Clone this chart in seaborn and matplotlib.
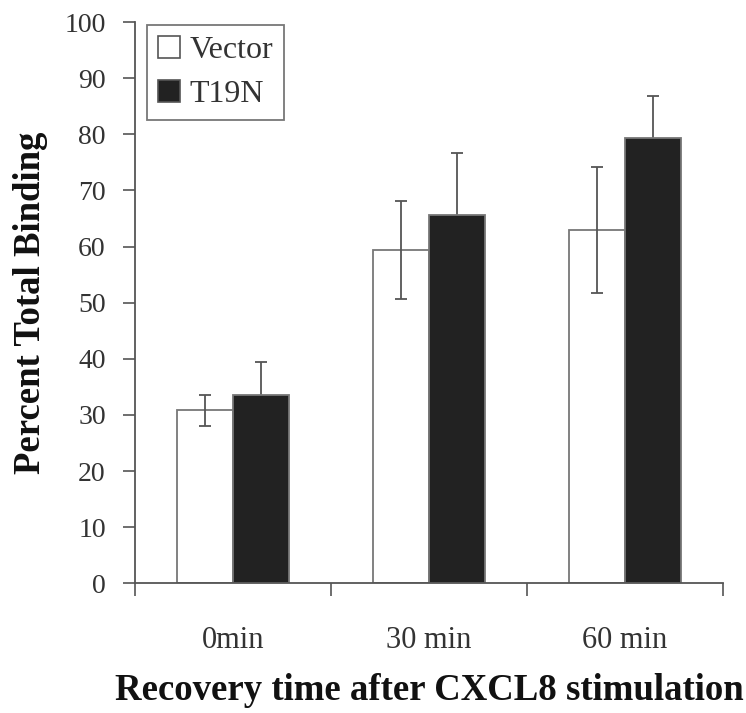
import matplotlib
matplotlib.use("Agg")
import matplotlib.pyplot as plt
import seaborn as sns
import pandas as pd
import numpy as np
from matplotlib.patches import Patch

categories = ["0min", "30 min", "60 min"]
groups = ["Vector", "T19N"]
vector_vals = [30.8, 59.4, 63.0]
t19n_vals = [33.5, 65.6, 79.3]
vector_err = [2.7, 8.7, 11.2]
t19n_err = [5.9, 11.0, 7.6]
yticks = list(range(0, 101, 10))

sns.set_theme(style="white")
plt.rcParams["font.family"] = ["Liberation Serif", "DejaVu Serif"]

df = pd.DataFrame({
    "time": categories * 2,
    "group": [groups[0]] * 3 + [groups[1]] * 3,
    "value": vector_vals + t19n_vals,
})

fig = plt.figure(figsize=(7.46, 7.13), dpi=100)
ax = fig.add_axes([0.181, 0.182, 0.788, 0.787])

sns.barplot(data=df, x="time", y="value", hue="group", order=categories,
            hue_order=groups, palette={"Vector": "white", "T19N": "#222222"},
            errorbar=None, width=0.57, edgecolor="#777777", linewidth=1.3,
            ax=ax, legend=False, zorder=2)

errs = {"Vector": vector_err, "T19N": t19n_err}
for cont, g in zip(ax.containers, groups):
    xs = [p.get_x() + p.get_width() / 2 for p in cont]
    hs = [p.get_height() for p in cont]
    z = 3 if g == "Vector" else 1
    ax.errorbar(xs, hs, yerr=errs[g], fmt="none", ecolor="#555555",
                elinewidth=1.3, capsize=4, capthick=1.3, zorder=z)

ax.set_ylim(0, 100)
ax.set_xlim(-0.5, 2.5)
ax.set_yticks(yticks)
ax.set_yticklabels([str(t) for t in yticks], fontsize=20, color="#333333")
ax.set_xticks([-0.5, 0.5, 1.5, 2.5])
ax.set_xticklabels([])
ax.set_xticks([0, 1, 2], minor=True)
ax.set_xticklabels(categories, minor=True, fontsize=22, color="#333333")
ax.tick_params(axis="x", which="minor", length=0, pad=31)
ax.tick_params(axis="x", which="major", direction="out", length=9, width=1.2, color="#555555", bottom=True)
ax.tick_params(axis="y", direction="out", length=9, width=1.2, color="#555555", left=True, pad=12)

for s in ["top", "right"]:
    ax.spines[s].set_visible(False)
for s in ["left", "bottom"]:
    ax.spines[s].set_color("#555555")
    ax.spines[s].set_linewidth(1.3)

ax.set_xlabel("Recovery time after CXCL8 stimulation", fontsize=26.5, fontweight="bold",
              labelpad=13, color="#111111")
ax.set_ylabel("Percent Total Binding", fontsize=26.5, fontweight="bold", labelpad=12,
              color="#111111")

handles = [Patch(facecolor="white", edgecolor="#555555", linewidth=1.2),
           Patch(facecolor="#222222", edgecolor="#555555", linewidth=1.2)]
leg = ax.legend(handles, groups, loc="upper left", bbox_to_anchor=(0.02, 0.995),
                fontsize=23, frameon=True, fancybox=False, handlelength=0.68,
                handleheight=0.68, handletextpad=0.3, borderpad=0.35, labelspacing=0.45,
                borderaxespad=0.0)
for t in leg.get_texts():
    t.set_color("#333333")
leg.get_frame().set_edgecolor("#555555")
leg.get_frame().set_linewidth(1.3)

fig.savefig("out.png", dpi=100)
